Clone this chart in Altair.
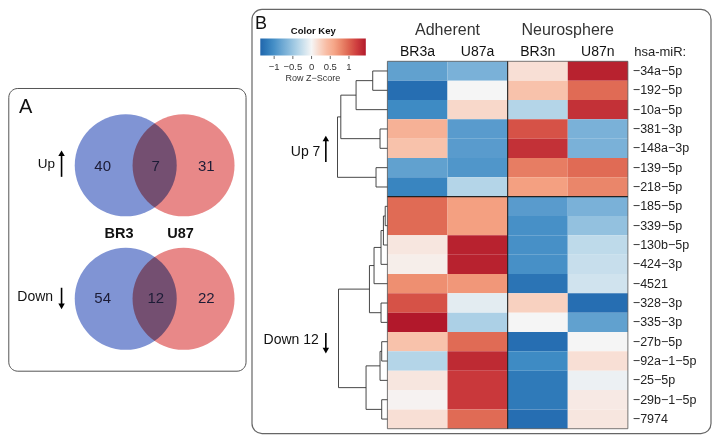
import altair as alt
import pandas as pd

# ---------------- data ----------------
venn_sets = ["BR3", "U87"]
up_counts = [40, 7, 31]      # BR3 only, shared, U87 only
down_counts = [54, 12, 22]

samples = ["BR3a", "U87a", "BR3n", "U87n"]
sample_groups = ["Adherent", "Neurosphere"]
mirnas = ["-34a-5p", "-192-5p", "-10a-5p", "-381-3p", "-148a-3p", "-139-5p", "-218-5p",
          "-185-5p", "-339-5p", "-130b-5p", "-424-3p", "-4521", "-328-3p", "-335-3p",
          "-27b-5p", "-92a-1-5p", "-25-5p", "-29b-1-5p", "-7974"]
z_BR3a = [-0.85, -1.3, -1.05, 0.5, 0.35, -0.85, -1.1,
          0.95, 0.95, 0.1, 0.05, 0.75, 1.1, 1.45, 0.35, -0.35, 0.1, 0.02, 0.15]
z_U87a = [-0.7, 0.0, 0.2, -0.9, -0.9, -0.95, -0.35,
          0.65, 0.65, 1.4, 1.4, 0.7, -0.1, -0.4, 0.95, 1.35, 1.25, 1.25, 0.95]
z_BR3n = [0.15, 0.35, -0.35, 1.1, 1.3, 0.85, 0.65,
          -0.9, -1.0, -1.0, -1.0, -1.25, 0.25, 0.0, -1.3, -1.05, -1.2, -1.2, -1.3]
z_U87n = [1.4, 0.95, 1.3, -0.7, -0.7, 0.95, 0.8,
          -0.7, -0.55, -0.3, -0.25, -0.2, -1.3, -0.85, 0.0, 0.15, -0.05, 0.08, 0.1]
cluster_names = ["Up 7", "Down 12"]
n_up = 7

# dendrogram merges: (child a, child b, height); ints = rows, "mK" = K-th merge
up_tree = [(0, 1, 14.7), ("m0", 2, 31.4), (3, 4, 7.4), ("m1", "m2", 46.7),
           (5, 6, 11.4), ("m3", "m4", 50.0)]
down_tree = [(7, 8, 2.2), ("m0", 9, 4.0), ("m1", 10, 6.4), ("m2", 11, 13.4),
             (12, 13, 6.4), ("m3", "m4", 18.0), (14, 15, 5.7), ("m6", 16, 7.4),
             (17, 18, 5.7), ("m7", "m8", 21.4), ("m5", "m9", 49.0)]
key_values = [-1, -0.5, 0, 0.5, 1]
key_range = [-1.37, 1.45]

# ---------------- layout / style ----------------
FONT = "Liberation Sans"
WA, WB, H = 242, 462, 427
XA = [3, 247]
XB = [253, 716]
YR = [3, 438]
CW, RH, HX0, HY0 = 60.25, 19.7, 390.7, 57.3


def rx(v):
    return (v - HX0) / CW


def ry(v):
    return (v - HY0) / RH


xsA = alt.Scale(domain=XA, nice=False, zero=False)
ysA = alt.Scale(domain=YR, reverse=True, nice=False, zero=False)
xsB = alt.Scale(domain=[rx(XB[0]), rx(XB[1])], nice=False, zero=False)
ysB = alt.Scale(domain=[ry(YR[0]), ry(YR[1])], reverse=True, nice=False, zero=False)

stops = [key_range[0], -1.05, -0.7, -0.35, 0, 0.35, 0.65, 0.95, 1.2, key_range[1]]
cols = ["#2166ac", "#3e8bc4", "#7ab1d8", "#b4d5e8", "#f5f5f5",
        "#f8c2ab", "#f4a081", "#e06b55", "#cf3f3f", "#b2182b"]


def pos(xs, ys, two=False):
    e = dict(x=alt.X("x:Q", scale=xs, axis=None), y=alt.Y("y:Q", scale=ys, axis=None))
    if two:
        e["x2"] = "x2:Q"
        e["y2"] = "y2:Q"
    return e


def texts(rows, xs, ys, **kw):
    df = pd.DataFrame(rows, columns=["x", "y", "t"])
    return alt.Chart(df).mark_text(font=FONT, **kw).encode(text="t:N", **pos(xs, ys))


def segs(rows, xs, ys, **kw):
    df = pd.DataFrame(rows, columns=["x", "x2", "y", "y2"])
    return alt.Chart(df).mark_rule(**kw).encode(**pos(xs, ys, True))


def box(rows, xs, ys, **kw):
    df = pd.DataFrame(rows, columns=["x", "x2", "y", "y2"])
    return alt.Chart(df).mark_rect(**kw).encode(**pos(xs, ys, True))


def arrow(x, y_tail, y_tip, xs, ys, off):
    up = y_tip < y_tail
    head_y = y_tip + (off if up else -off)
    shaft = segs([(x, x, y_tail, head_y)], xs, ys, color="black", strokeWidth=1.6)
    head = alt.Chart(pd.DataFrame({"x": [x], "y": [head_y]})).mark_point(
        shape="triangle-up" if up else "triangle-down", filled=True, size=42,
        color="black", opacity=1).encode(**pos(xs, ys))
    return shaft + head


# ---------------- panel A: Venn ----------------
cxL, cxR, cyU, cyD = 121.7, 180.0, 163.3, 299.3
r_px = 58.3 * 0.987
circ = pd.DataFrame({
    "x": [cxL, cxR, cxL, cxR],
    "y": [cyU, cyU, cyD, cyD],
    "c": ["#8094d4", "#e88888", "#8094d4", "#e88888"],
})
circles = alt.Chart(circ).mark_circle(size=3.14159 * r_px ** 2, opacity=1, blend="multiply").encode(
    color=alt.Color("c:N", scale=None), **pos(xsA, ysA))

num_x = [98.5, 152.0, 203.0]
nums = texts([(num_x[i], cyU + 0.7, str(v)) for i, v in enumerate(up_counts)] +
             [(num_x[i], cyD - 1.3, str(v)) for i, v in enumerate(down_counts)],
             xsA, ysA, fontSize=15, color="#1c1c36", baseline="middle", align="center")
set_names = texts([(115, 233, venn_sets[0]), (177, 233, venn_sets[1])], xsA, ysA,
                  fontSize=14.5, fontWeight="bold", color="#111", baseline="middle", align="center")
panelA = alt.layer(
    box([(3.8, 243, 85, 373)], xsA, ysA, fillOpacity=0, stroke="#555", strokeWidth=1, cornerRadius=9),
    circles, nums, set_names,
    texts([(14, 104, "A")], xsA, ysA, fontSize=20, color="#111", baseline="middle", align="left"),
    texts([(50.5, 162, "Up")], xsA, ysA, fontSize=13.5, color="#111", baseline="middle", align="right"),
    texts([(48.5, 297, "Down")], xsA, ysA, fontSize=14, color="#111", baseline="middle", align="right"),
    arrow(57, 175, 148, xsA, ysA, 3),
    arrow(57, 288, 310, xsA, ysA, 3),
).properties(width=WA, height=H)

# ---------------- panel B: heatmap ----------------
zcols = [z_BR3a, z_U87a, z_BR3n, z_U87n]
cells = pd.DataFrame([
    {"x": c, "x2": c + 1, "y": r, "y2": r + 1, "z": zcols[c][r], "mir": mirnas[r], "s": samples[c]}
    for r in range(len(mirnas)) for c in range(len(samples))
])
LEG_X, LEG_Y, LEG_LEN = 10.3, 18, 105.5
cscale = alt.Scale(domain=stops, range=cols, nice=False, zero=False)
heat = alt.Chart(cells).mark_rect().encode(
    color=alt.Color("z:Q", scale=cscale, legend=alt.Legend(
        type="gradient", title="Color Key", orient="none", legendX=WA + LEG_X, legendY=LEG_Y,
        direction="horizontal",
        gradientLength=LEG_LEN, gradientThickness=17, values=key_values, format="~g",
        labelFont=FONT, labelFontSize=9.5, labelColor="#333", labelOffset=6, labelOverlap=False,
        titleFont=FONT, titleFontSize=9.5, titleFontWeight="bold", titleColor="#111",
        titleAnchor="middle", titleAlign="center", titlePadding=3, padding=0,
        gradientStrokeWidth=0)),
    **pos(xsB, ysB, True))

nrow, ncol = len(mirnas), len(samples)
frame = box([(0, ncol, 0, nrow)], xsB, ysB, fillOpacity=0, stroke="#555", strokeWidth=0.8)
seps = segs([(0, ncol, n_up, n_up), (2, 2, 0, nrow)], xsB, ysB, color="#222", strokeWidth=1.1)


def dendro(tree):
    nodes, out = {}, []
    for k, (a, b, h) in enumerate(tree):
        xa, ya = (0.0, a + 0.5) if isinstance(a, int) else nodes[a]
        xb, yb = (0.0, b + 0.5) if isinstance(b, int) else nodes[b]
        xm = -h / CW
        out += [(xm, xm, ya, yb), (xm, xa, ya, ya), (xm, xb, yb, yb)]
        nodes["m%d" % k] = (xm, (ya + yb) / 2)
    return out


tree = segs(dendro(up_tree) + dendro(down_tree), xsB, ysB, color="#333", strokeWidth=0.9)

group_hdr = texts([(1.0, ry(25), sample_groups[0]), (3.0, ry(25), sample_groups[1])], xsB, ysB,
                  fontSize=16, color="#333", baseline="middle", align="center")
samp_hdr = texts([(c + 0.5, ry(48.3), s) for c, s in enumerate(samples)], xsB, ysB,
                 fontSize=14, color="#111", baseline="middle", align="center")
row_lab = texts([(rx(636.7), r + 0.5, m.replace("-", "\u2212")) for r, m in enumerate(mirnas)],
                xsB, ysB, fontSize=12.5, color="#222", baseline="middle", align="left")
hsa = texts([(rx(638), ry(48.3), "hsa-miR:")], xsB, ysB, fontSize=13, color="#222",
            baseline="middle", align="left")
clus = texts([(rx(323.5), ry(150), cluster_names[0]), (rx(322), ry(341.7), cluster_names[1])],
             xsB, ysB, fontSize=14, color="#111", baseline="middle", align="right")
blab = texts([(rx(258), ry(19.5), "B")], xsB, ysB, fontSize=18, color="#111",
             baseline="middle", align="left")
zlab = texts([(rx(316), ry(74), "Row Z\u2212Score")], xsB, ysB, fontSize=9, color="#333",
             baseline="middle", align="center")
sx = 463 / 462
ticks = segs([(rx(XB[0] + (LEG_X + (v - key_range[0]) / (key_range[1] - key_range[0]) * LEG_LEN) * sx),) * 2
              + (ry(51.8), ry(55)) for v in key_values], xsB, ysB, color="#444", strokeWidth=0.8)

panelB = alt.layer(
    box([(rx(255), rx(715), ry(4.5), ry(436.5))], xsB, ysB, fillOpacity=0, stroke="#666",
        strokeWidth=1.2, cornerRadius=10),
    heat, frame, seps, tree, group_hdr, samp_hdr, row_lab, hsa, clus, blab, zlab, ticks,
    arrow(rx(329), ry(160), ry(133), xsB, ysB, 3 / RH),
    arrow(rx(329), ry(334), ry(355), xsB, ysB, 3 / RH),
).properties(width=WB, height=H)

chart = alt.hconcat(panelA, panelB, spacing=0, bounds="flush").properties(padding=0).configure(
    font=FONT, view=alt.ViewConfig(stroke="transparent", strokeWidth=0))

chart.save("out.html", embed_options={"renderer": "svg", "actions": False})
